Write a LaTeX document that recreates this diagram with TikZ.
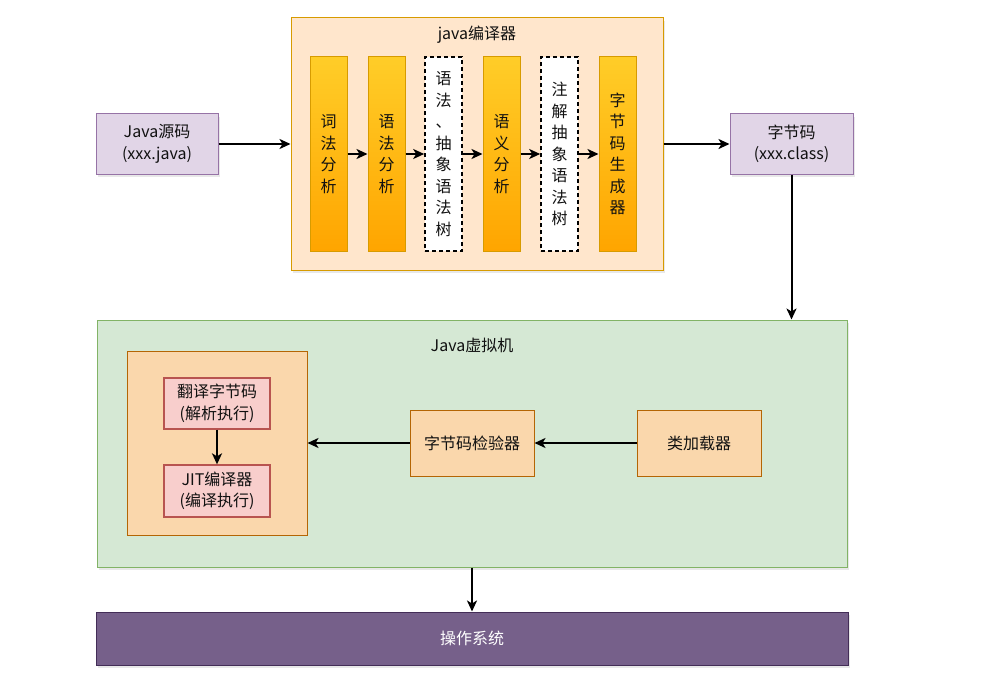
\documentclass[tikz,border=0pt]{standalone}
\usepackage{fontspec}
\setmainfont{Noto Sans CJK SC}
\usepackage{xcolor}
\usepackage{tikz}
\usetikzlibrary{arrows.meta,shadows}

\definecolor{srcfill}{HTML}{E1D5E7}
\definecolor{srcline}{HTML}{9673A6}
\definecolor{javacfill}{HTML}{FFE6CC}
\definecolor{javacline}{HTML}{D79B00}
\definecolor{gradtop}{HTML}{FFCD28}
\definecolor{gradbot}{HTML}{FFA500}
\definecolor{jvmfill}{HTML}{D5E8D4}
\definecolor{jvmline}{HTML}{82B366}
\definecolor{partfill}{HTML}{FAD7AC}
\definecolor{partline}{HTML}{B46504}
\definecolor{execfill}{HTML}{F8CECC}
\definecolor{execline}{HTML}{B85450}
\definecolor{osfill}{HTML}{76608A}
\definecolor{osline}{HTML}{432D57}
\definecolor{txt}{HTML}{111111}

\tikzset{
  box/.style={draw, line width=1pt, inner sep=0pt, align=center, text=txt,
    font=\fontsize{16}{21.5}\selectfont},
  shade box/.style={drop shadow={opacity=0.18, shadow xshift=2pt, shadow yshift=-3pt}},
  stage/.style={box, draw=javacline, top color=gradtop, bottom color=gradbot,
    minimum width=37pt, minimum height=194pt},
  tree/.style={box, draw=black, fill=white, dash pattern=on 4pt off 3pt, line width=1.6pt,
    minimum width=37pt, minimum height=194pt},
  flow/.style={-{Stealth[length=11pt,width=10pt,inset=3pt]}, line width=2pt, black},
}

\begin{document}
\begin{tikzpicture}[x=1pt, y=-1pt]
    \useasboundingbox (0,0) rectangle (992,682);

    % Source and bytecode
    \node[box, shade box, fill=srcfill, draw=srcline, minimum width=122pt, minimum height=60pt]
        (src) at (157,144) {Java源码\\(xxx.java)};
    \node[box, shade box, fill=srcfill, draw=srcline, minimum width=123pt, minimum height=60pt]
        (bc) at (791.5,144) {字节码\\(xxx.class)};

    % Compiler
    \node[box, shade box, fill=javacfill, draw=javacline, minimum width=372pt, minimum height=252pt]
        (javac) at (477,144) {};
    \node[box, draw=none] (javactitle) at (477,35) {java编译器};

    \node[stage] (c1) at (328.5,154) {词\\法\\分\\析};
    \node[stage] (c2) at (386.5,154) {语\\法\\分\\析};
    \node[tree]  (c3) at (443.5,154) {语\\法\\、\\抽\\象\\语\\法\\树};
    \node[stage] (c4) at (501.5,154) {语\\义\\分\\析};
    \node[tree]  (c5) at (559.5,154) {注\\解\\抽\\象\\语\\法\\树};
    \node[stage] (c6) at (617.5,154) {字\\节\\码\\生\\成\\器};

    \foreach \a/\b in {c1/c2,c2/c3,c3/c4,c4/c5,c5/c6}
        \draw[flow] (\a.east) -- (\b.west);

    \draw[flow] (src.east) -- (javac.west);
    \draw[flow] (javac.east) -- (bc.west);

    % JVM
    \node[box, shade box, fill=jvmfill, draw=jvmline, minimum width=750pt, minimum height=247pt]
        (jvm) at (472,443.5) {};
    \node[box, draw=none] (jvmtitle) at (472,345) {Java虚拟机};

    \node[box, fill=partfill, draw=partline, minimum width=180pt, minimum height=184pt]
        (exec) at (217,443) {};
    \node[box, fill=execfill, draw=execline, line width=1.3pt, minimum width=106pt, minimum height=51pt]
        (interp) at (217,403.5) {翻译字节码\\(解析执行)};
    \node[box, fill=execfill, draw=execline, line width=1.3pt, minimum width=106pt, minimum height=52pt]
        (jit) at (217,491) {JIT编译器\\(编译执行)};
    \draw[flow] (interp.south) -- (jit.north);

    \node[box, fill=partfill, draw=partline, minimum width=124pt, minimum height=66pt]
        (verify) at (472,443) {字节码检验器};
    \node[box, fill=partfill, draw=partline, minimum width=124pt, minimum height=66pt]
        (loader) at (699,443) {类加载器};

    \draw[flow] (loader.west) -- (verify.east);
    \draw[flow] (verify.west) -- (exec.east);

    \draw[flow] (bc.south) -- (bc.south |- jvm.north);

    % Operating system
    \node[box, shade box, fill=osfill, draw=osline, text=white, minimum width=752pt, minimum height=53pt]
        (os) at (472,638.5) {操作系统};
    \draw[flow] (jvm.south) -- (os.north);
\end{tikzpicture}
\end{document}
